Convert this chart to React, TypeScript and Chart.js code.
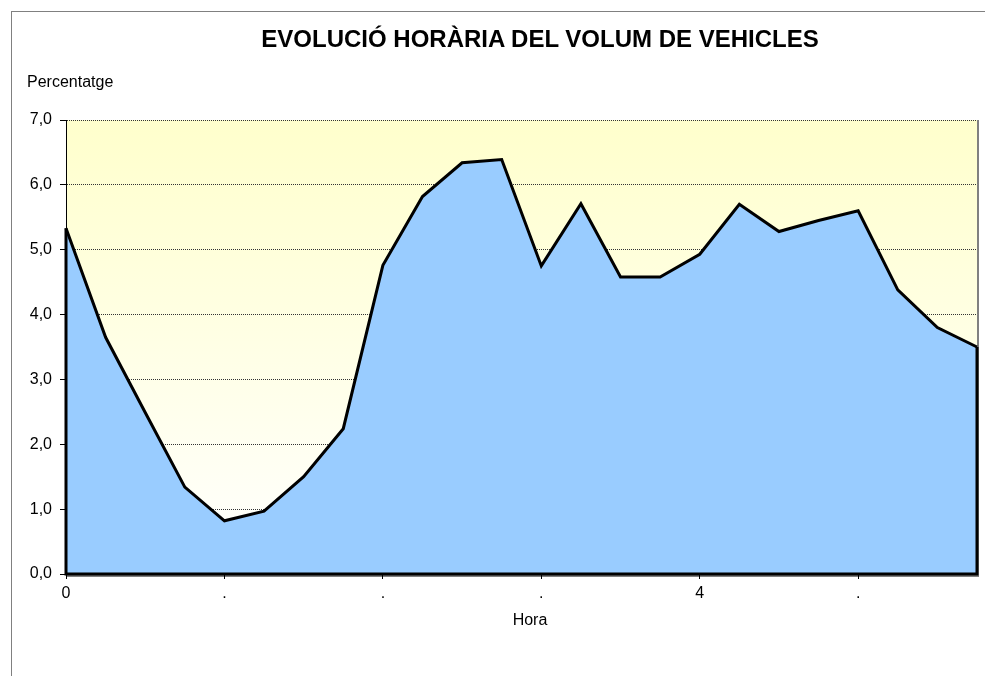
import React, { useEffect, useRef } from 'react';
import { Chart, registerables } from 'chart.js';

Chart.register(...registerables);

const FONT = "'Liberation Sans', Arial, Helvetica, sans-serif";

const titleText = 'EVOLUCIÓ HORÀRIA DEL VOLUM DE VEHICLES';
const yAxisLabel = 'Percentatge';
const xAxisLabel = 'Hora';

const hours = ['0', '1', '2', '3', '4', '5', '6', '7', '8', '9', '10', '11', '12', '13', '14', '15', '16', '17', '18', '19', '20', '21', '22', '23'];
const tickLabels = ['0', '.', '.', '.', '4', '.'];
const percentatge = [5.33, 3.65, 2.49, 1.34, 0.82, 0.97, 1.5, 2.24, 4.76, 5.82, 6.34, 6.39, 4.75, 5.71, 4.58, 4.58, 4.93, 5.7, 5.28, 5.45, 5.6, 4.38, 3.8, 3.5];
const yMin = 0;
const yMax = 7;
const yStep = 1;

const plotDecor = {
  id: 'plotDecor',
  beforeDraw(chart: any) {
    const { ctx, chartArea } = chart;
    const { left, top, right, bottom } = chartArea;
    ctx.save();
    const g = ctx.createLinearGradient(0, top, 0, bottom);
    g.addColorStop(0, '#FFFFCC');
    g.addColorStop(1, '#FFFFFF');
    ctx.fillStyle = g;
    ctx.fillRect(left, top, right - left, bottom - top);
    ctx.strokeStyle = '#808080';
    ctx.lineWidth = 2;
    ctx.beginPath();
    ctx.moveTo(right + 1, top);
    ctx.lineTo(right + 1, bottom + 2);
    ctx.lineTo(left, bottom + 2);
    ctx.stroke();
    ctx.restore();
  },
  afterDatasetsDraw(chart: any) {
    const { ctx } = chart;
    const meta = chart.getDatasetMeta(0);
    const pts = meta.data;
    if (!pts || !pts.length) return;
    const y0 = chart.scales.y.getPixelForValue(0);
    const first = pts[0];
    const last = pts[pts.length - 1];
    ctx.save();
    ctx.strokeStyle = '#000000';
    ctx.lineWidth = 3;
    ctx.lineJoin = 'miter';
    ctx.beginPath();
    ctx.moveTo(first.x, first.y);
    ctx.lineTo(first.x, y0);
    ctx.lineTo(last.x, y0);
    ctx.lineTo(last.x, last.y);
    ctx.stroke();
    ctx.restore();
  },
};

export default function App() {
  const canvasRef = useRef<HTMLCanvasElement | null>(null);

  useEffect(() => {
    if (!canvasRef.current) return;
    const chart = new Chart(canvasRef.current, {
      type: 'line',
      data: {
        labels: hours,
        datasets: [
          {
            label: yAxisLabel,
            data: percentatge,
            borderColor: '#000000',
            borderWidth: 3,
            backgroundColor: '#99CCFF',
            fill: 'origin',
            pointRadius: 0,
            pointHoverRadius: 0,
            tension: 0,
            clip: false,
          } as any,
        ],
      },
      options: {
        animation: false,
        responsive: false,
        devicePixelRatio: 1,
        events: [],
        layout: { padding: { left: 0, top: 120, right: 8, bottom: 0 } },
        plugins: {
          legend: { display: false },
          title: { display: false },
          tooltip: { enabled: false },
        },
        scales: {
          x: {
            type: 'category',
            offset: false,
            afterBuildTicks: (scale: any) => {
              scale.ticks = scale.ticks.filter((t: any) => t.value % 4 === 0);
            },
            afterFit: (scale: any) => {
              scale.height = 102;
            },
            grid: {
              display: true,
              drawOnChartArea: false,
              drawTicks: true,
              tickLength: 5,
              tickColor: '#000000',
            },
            border: { display: true, color: '#000000', width: 1 },
            ticks: {
              autoSkip: false,
              maxRotation: 0,
              minRotation: 0,
              padding: 5,
              color: '#000000',
              font: { family: FONT, size: 16 },
              callback: (value: any) => tickLabels[Number(value) / 4] ?? '',
            },
          },
          y: {
            type: 'linear',
            min: yMin,
            max: yMax,
            afterFit: (scale: any) => {
              scale.width = 66;
            },
            grid: {
              display: true,
              drawOnChartArea: true,
              drawTicks: true,
              tickLength: 6,
              color: '#333333',
              lineWidth: 1,
              tickColor: '#000000',
              tickBorderDash: [],
            } as any,
            border: { display: true, color: '#000000', width: 1, dash: [1, 1] } as any,
            ticks: {
              stepSize: yStep,
              padding: 8,
              color: '#000000',
              font: { family: FONT, size: 16 },
              callback: (value: any) => Number(value).toFixed(1).replace('.', ','),
            },
          },
        },
      },
      plugins: [plotDecor],
    });
    return () => chart.destroy();
  }, []);

  const textBase: React.CSSProperties = {
    position: 'fixed',
    fontFamily: FONT,
    color: '#000',
    lineHeight: 1,
    whiteSpace: 'nowrap',
    margin: 0,
  };

  return (
    <div>
      <div
        style={{
          position: 'fixed',
          left: 11,
          top: 11,
          width: 974,
          height: 665,
          borderTop: '1px solid #808080',
          borderLeft: '1px solid #808080',
          boxSizing: 'border-box',
          background: '#fff',
        }}
      />
      <canvas
        ref={canvasRef}
        width={985}
        height={676}
        style={{ position: 'fixed', left: 0, top: 0, width: 985, height: 676 }}
      />
      <div style={{ ...textBase, left: 540, top: 27, transform: 'translateX(-50%)', fontSize: 24, fontWeight: 'bold' }}>
        {titleText}
      </div>
      <div style={{ ...textBase, left: 27, top: 74, fontSize: 16 }}>{yAxisLabel}</div>
      <div style={{ ...textBase, left: 530, top: 612, transform: 'translateX(-50%)', fontSize: 16 }}>{xAxisLabel}</div>
    </div>
  );
}
